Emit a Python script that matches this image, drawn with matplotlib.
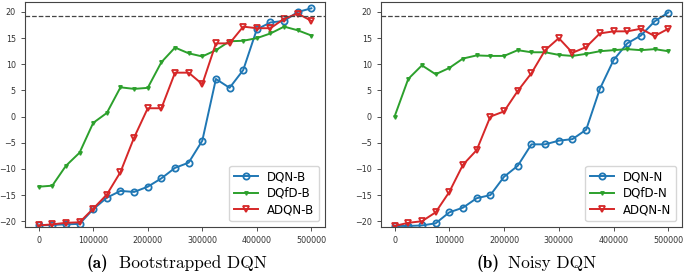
import numpy as np
import matplotlib
matplotlib.use('Agg')
import matplotlib.pyplot as plt

steps = np.arange(0, 500001, 25000)

# (a) Bootstrapped DQN
dqn_b = [-20.8, -20.7, -20.6, -20.5, -17.7, -15.5, -14.2, -14.4, -13.4, -11.8, -9.8,
         -8.8, -4.6, 7.2, 5.5, 8.9, 16.7, 18.0, 18.3, 20.0, 20.7]
dqfd_b = [-13.4, -13.2, -9.4, -6.9, -1.2, 0.7, 5.6, 5.3, 5.5, 10.4, 13.2,
          12.1, 11.5, 12.7, 14.4, 14.5, 15.0, 15.9, 17.2, 16.5, 15.5]
adqn_b = [-20.8, -20.6, -20.3, -20.2, -17.6, -14.9, -10.6, -4.0, 1.6, 1.6, 8.4,
          8.4, 6.2, 14.0, 14.0, 17.2, 16.9, 16.9, 18.7, 19.7, 18.3]

# (b) Noisy DQN
dqn_n = [-20.9, -20.9, -20.8, -20.4, -18.3, -17.4, -15.6, -15.0, -11.5, -9.4, -5.3,
         -5.3, -4.6, -4.3, -2.5, 5.3, 10.8, 14.0, 15.5, 18.2, 19.9]
dqfd_n = [0.0, 7.2, 9.8, 8.1, 9.3, 11.1, 11.7, 11.6, 11.6, 12.7, 12.3,
          12.3, 11.8, 11.6, 12.0, 12.5, 12.7, 12.9, 12.7, 12.9, 12.5]
adqn_n = [-20.9, -20.3, -20.0, -18.3, -14.4, -9.2, -6.4, 0.0, 1.0, 4.9, 8.3,
          12.7, 15.0, 12.2, 13.3, 15.9, 16.3, 16.3, 16.8, 15.4, 16.8]

expert = 19.2

panels = [
    ([dqn_b, dqfd_b, adqn_b], ['DQN-B', 'DQfD-B', 'ADQN-B'], '(a)', 'Bootstrapped DQN'),
    ([dqn_n, dqfd_n, adqn_n], ['DQN-N', 'DQfD-N', 'ADQN-N'], '(b)', 'Noisy DQN'),
]

fig = plt.figure(figsize=(6.85, 2.73), dpi=100)
rects = [[0.0365, 0.1685, 0.438, 0.824], [0.556, 0.1685, 0.4396, 0.824]]
caption_x = [0.127, 0.695]

for rect, cx, (series, names, tag, title) in zip(rects, caption_x, panels):
    ax = fig.add_axes(rect)
    ax.plot(steps, series[0], color='#1f77b4', marker='o', ms=4.5, mfc='none', mew=1.3,
            lw=1.4, label=names[0])
    ax.plot(steps, series[1], color='#2ca02c', marker='v', ms=2.5, lw=1.4, label=names[1])
    ax.plot(steps, series[2], color='#d62728', marker='v', ms=5, mfc='none', mew=1.3,
            lw=1.4, label=names[2])
    ax.axhline(expert, color='#444444', ls='--', lw=0.9)
    ax.set_ylim(-21.1, 21.9)
    ax.set_xlim(-25000, 525000)
    ax.set_yticks([-20, -15, -10, -5, 0, 5, 10, 15, 20])
    ax.set_xticks([0, 100000, 200000, 300000, 400000, 500000])
    ax.tick_params(labelsize=5.8, length=3, width=0.6, colors='#333333')
    for s in ax.spines.values():
        s.set_color('#444444')
        s.set_linewidth(0.8)
    ax.legend(loc='lower right', fontsize=8.5, handlelength=2.0, borderpad=0.4,
              labelspacing=0.3)

    fig.text(cx, 0.02, tag, fontfamily='cmb10', fontsize=12.5, ha='left')
    fig.text(cx + 0.047, 0.02, title, fontfamily='cmr10', fontsize=12.5, ha='left')

fig.savefig('out.png', dpi=100)
